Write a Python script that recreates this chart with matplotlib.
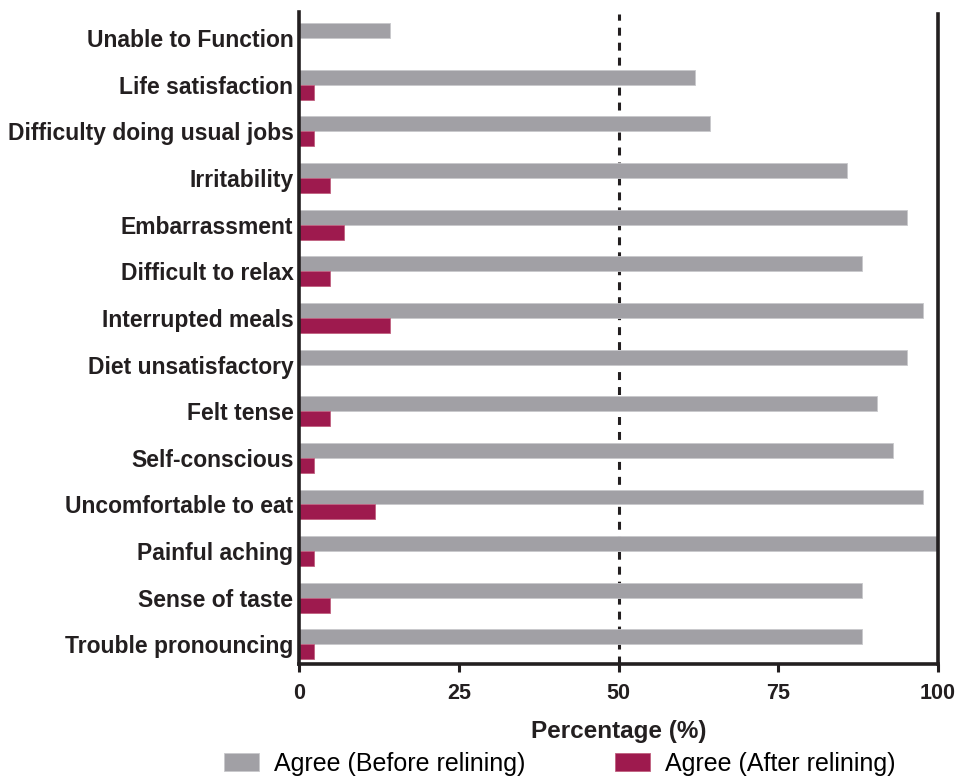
import matplotlib
matplotlib.use("Agg")
import matplotlib.pyplot as plt
from matplotlib import font_manager
import numpy as np

categories = ["Unable to Function", "Life satisfaction", "Difficulty doing usual jobs",
              "Irritability", "Embarrassment", "Difficult to relax", "Interrupted meals",
              "Diet unsatisfactory", "Felt tense", "Self-conscious", "Uncomfortable to eat",
              "Painful aching", "Sense of taste", "Trouble pronouncing"]
before = [14.3, 61.9, 64.3, 85.7, 95.2, 88.1, 97.6, 95.2, 90.5, 92.9, 97.6, 100.0, 88.1, 88.1]
after = [0.0, 2.4, 2.4, 4.8, 7.1, 4.8, 14.3, 0.0, 4.8, 2.4, 11.9, 2.4, 4.8, 2.4]
xticks = [0, 25, 50, 75, 100]
series_labels = ["Agree (Before relining)", "Agree (After relining)"]

names = {f.name for f in font_manager.fontManager.ttflist}
base = "Liberation Sans" if "Liberation Sans" in names else "DejaVu Sans"
plt.rcParams['font.family'] = [base, 'DejaVu Sans']

gray = "#A1A0A5"
crimson = "#9E1A4E"
ink = "#231F20"

fig = plt.figure(figsize=(9.6, 7.77), dpi=100)
ax = fig.add_axes([299/960, (777-664)/777, 639/960, (664-12)/777])

n = len(categories)
y = np.arange(n)[::-1]
h = 0.32
ax.barh(y + h/2, before, height=h, color=gray, label=series_labels[0], edgecolor="#C8C8CC", linewidth=0.6)
ax.barh(y - h/2, after, height=h, color=crimson, label=series_labels[1], edgecolor="#C0607F", linewidth=0.6)

ax.axvline(50, color=ink, linestyle=(0, (2.6, 2.3)), linewidth=2.2, ymax=0.997, zorder=0)

ax.set_xlim(0, 100)
ax.set_ylim(-0.42, 13.56)
ax.set_yticks(y)
ax.set_yticklabels(categories, fontsize=16.5, fontweight="bold", color=ink)
ax.tick_params(axis="y", length=0, pad=4)
ax.set_xticks(xticks)
ax.set_xticklabels([str(t) for t in xticks], fontsize=15.5, fontweight="bold", color=ink)
ax.tick_params(axis="x", length=6, width=2.2, color=ink, pad=8)
ax.set_xlabel("Percentage (%)", fontsize=17.5, fontweight="bold", color=ink, labelpad=11)

for s in ["left", "right", "bottom"]:
    ax.spines[s].set_linewidth(2.6)
    ax.spines[s].set_color(ink)
ax.spines["top"].set_visible(False)
ax.spines["right"].set_bounds(-0.42, 13.52)

fig.legend(loc="center", bbox_to_anchor=(560/960, 1 - 764/777), ncol=2, frameon=False,
           handlelength=1.4, handleheight=0.75, columnspacing=3.6, handletextpad=0.6,
           prop={'family': [base], 'size': 18})

fig.savefig("out.png", dpi=100)
